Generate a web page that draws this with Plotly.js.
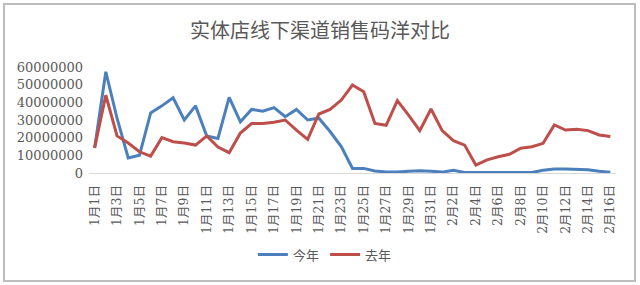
<!DOCTYPE html>
<html>
<head>
<meta charset="utf-8">
<script src="https://cdn.plot.ly/plotly-3.0.1.min.js"></script>
<style>
  html, body { margin: 0; padding: 0; background: #fff; }
  #wrap { position: relative; width: 640px; height: 285px; }
  #chart { width: 640px; height: 285px; }
  #frame { position: absolute; left: 3px; top: 3px; width: 629px; height: 275px;
           border: 2px solid #bdbdbd; pointer-events: none; }
</style>
</head>
<body>
<div id="wrap"><div id="chart"></div><div id="frame"></div></div>
<script>
const dates = [
  "1月1日","1月2日","1月3日","1月4日","1月5日","1月6日","1月7日","1月8日","1月9日","1月10日",
  "1月11日","1月12日","1月13日","1月14日","1月15日","1月16日","1月17日","1月18日","1月19日","1月20日",
  "1月21日","1月22日","1月23日","1月24日","1月25日","1月26日","1月27日","1月28日","1月29日","1月30日",
  "1月31日","2月1日","2月2日","2月3日","2月4日","2月5日","2月6日","2月7日","2月8日","2月9日",
  "2月10日","2月11日","2月12日","2月13日","2月14日","2月15日","2月16日"
];
const thisYear = [
  14200000, 57300000, 31000000, 8500000, 10000000, 34000000, 38000000, 42600000, 30000000, 38000000,
  21000000, 19600000, 42800000, 29000000, 36000000, 35000000, 37000000, 31900000, 36000000, 30000000,
  31000000, 23500000, 15000000, 2600000, 2600000, 1100000, 600000, 500000, 1000000, 1300000,
  1000000, 500000, 1500000, 300000, 300000, 300000, 300000, 300000, 300000, 300000,
  1500000, 2200000, 2300000, 2200000, 1800000, 1000000, 400000
];
const lastYear = [
  14200000, 44000000, 21000000, 17000000, 12000000, 9600000, 20000000, 17700000, 17000000, 15800000,
  21000000, 14700000, 11500000, 22600000, 28000000, 28000000, 28700000, 30000000, 24300000, 19000000,
  33400000, 36000000, 41300000, 49800000, 46000000, 28000000, 27000000, 41000000, 32800000, 24000000,
  36200000, 24000000, 18300000, 15800000, 4500000, 7400000, 9200000, 10600000, 14000000, 14900000,
  16800000, 27200000, 24300000, 24700000, 24000000, 21500000, 20600000
];
const seriesNames = ["今年", "去年"];
const yTicks = [0, 10000000, 20000000, 30000000, 40000000, 50000000, 60000000];

const labelVals = dates.filter((d, i) => i % 2 === 0);
const n = dates.length;
const boundaryVals = [];
for (let i = 0; i < n; i += 2) boundaryVals.push(i - 0.5);

const grey = "#595959";
const traces = [
  { x: dates, y: thisYear, name: seriesNames[0], type: "scatter", mode: "lines",
    legend: "legend", line: { color: "rgb(76,128,189)", width: 3 } },
  { x: dates, y: lastYear, name: seriesNames[1], type: "scatter", mode: "lines",
    legend: "legend2", line: { color: "rgb(190,78,74)", width: 3 } }
];

const legendStyle = {
  orientation: "h", xanchor: "left", y: -0.77, yanchor: "middle",
  font: { family: "Noto Sans CJK SC", size: 13, color: grey },
  itemwidth: 30, bgcolor: "rgba(0,0,0,0)"
};

const layout = {
  width: 640, height: 285,
  margin: { l: 89, r: 24, t: 67, b: 112 },
  paper_bgcolor: "#fff", plot_bgcolor: "#fff",
  title: { text: "实体店线下渠道销售码洋对比", x: 0.5, xref: "container", xanchor: "center",
           y: 0.89, yref: "container", yanchor: "middle",
           font: { family: "Noto Sans CJK SC", size: 20, color: grey } },
  xaxis: {
    type: "category", categoryarray: dates, categoryorder: "array",
    range: [-0.5, n - 0.5],
    tickmode: "array", tickvals: labelVals, ticktext: labelVals,
    tickangle: -90, ticks: "", ticklabelstandoff: 6,
    tickfont: { family: "DejaVu Serif, Noto Sans CJK SC", size: 12.5, color: grey },
    showline: true, linecolor: "#d9d9d9", linewidth: 1,
    showgrid: false, zeroline: false, fixedrange: true
  },
  xaxis2: {
    overlaying: "x", type: "linear", range: [-0.5, n - 0.5],
    tickmode: "array", tickvals: boundaryVals, ticks: "outside", ticklen: 4,
    tickcolor: "#d9d9d9", showticklabels: false, showgrid: false, zeroline: false,
    side: "bottom", anchor: "y"
  },
  yaxis: {
    range: [0, 60000000], tickmode: "array", tickvals: yTicks, tickformat: "d",
    tickfont: { family: "DejaVu Serif", size: 13, color: grey },
    showgrid: false, zeroline: false, showline: false, ticks: "",
    ticklabelstandoff: 5, fixedrange: true
  },
  legend: Object.assign({}, legendStyle, { x: 0.311 }),
  legend2: Object.assign({}, legendStyle, { x: 0.448 }),
  showlegend: true
};

Plotly.newPlot("chart", traces, layout, { displayModeBar: false, staticPlot: true });
</script>
</body>
</html>
